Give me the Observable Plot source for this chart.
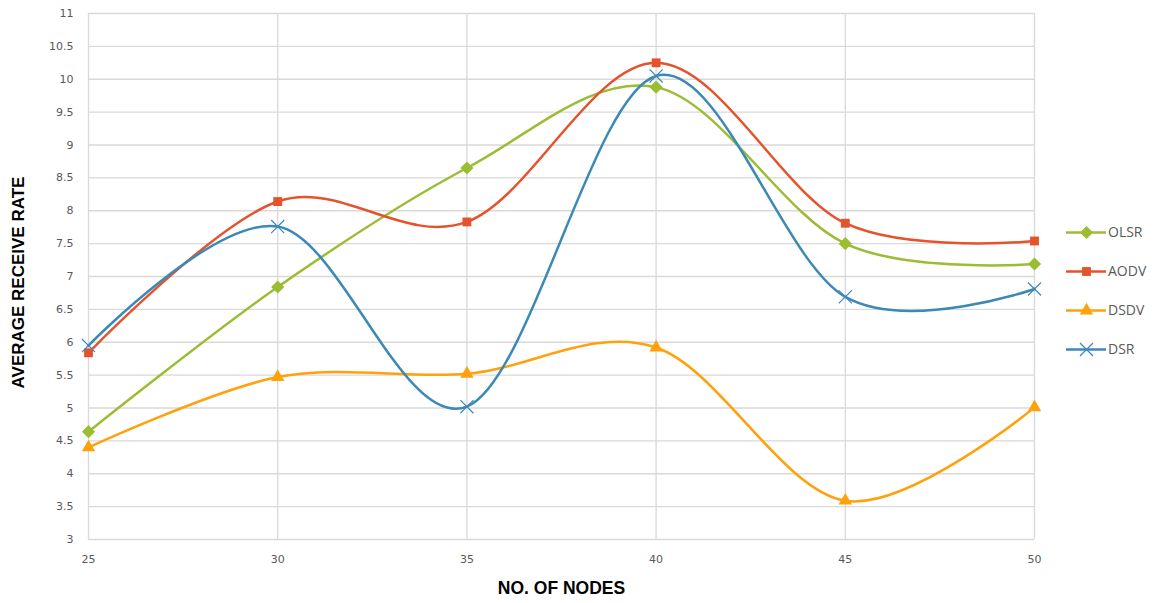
<!DOCTYPE html>
<html>
<head>
<meta charset="utf-8">
<script src="https://cdn.jsdelivr.net/npm/d3@7"></script>
<script src="https://cdn.jsdelivr.net/npm/@observablehq/plot@0.6"></script>
<style>
  body { margin: 0; background: #fff; }
  #wrap { position: relative; width: 1156px; height: 603px; }
  #legend { position: absolute; left: 1066px; top: 222px; font-family: "Open Sans", "DejaVu Sans", sans-serif; font-size: 14px; color: #595959; }
  .item { height: 39px; display: flex; align-items: flex-start; }
  .item svg { display: block; }
  .item span { margin-left: 2px; line-height: 20px; }
</style>
</head>
<body>
<div id="wrap"></div>
<script>
const nodes = [25, 30, 35, 40, 45, 50];
const olsr = [4.64, 6.84, 8.65, 9.88, 7.50, 7.19];
const aodv = [5.84, 8.14, 7.83, 10.25, 7.81, 7.54];
const dsdv = [4.40, 5.47, 5.52, 5.92, 3.59, 5.01];
const dsr  = [5.95, 7.76, 5.02, 10.05, 6.69, 6.81];
const yTicks = [3, 3.5, 4, 4.5, 5, 5.5, 6, 6.5, 7, 7.5, 8, 8.5, 9, 9.5, 10, 10.5, 11];
const xTicks = [25, 30, 35, 40, 45, 50];

// rotated-square diamond (Excel style)
const squareDiamond = {
  draw(context, size) {
    const h = Math.sqrt(size) / Math.SQRT2 * 1.05;
    context.moveTo(0, -h);
    context.lineTo(h, 0);
    context.lineTo(0, h);
    context.lineTo(-h, 0);
    context.closePath();
  }
};

const series = [
  {name: "OLSR", values: olsr, color: "#9BBD33", symbol: squareDiamond, r: 5, fill: true},
  {name: "AODV", values: aodv, color: "#E4532B", symbol: "square", r: 5, fill: true},
  {name: "DSDV", values: dsdv, color: "#FFA10A", symbol: "triangle", r: 5, fill: true},
  {name: "DSR",  values: dsr,  color: "#3C89B6", symbol: "times", r: 6, fill: false}
];

const marks = [
  Plot.gridY(yTicks, {stroke: "#d9d9d9", strokeOpacity: 1, strokeWidth: 1.3}),
  Plot.gridX(xTicks, {stroke: "#d9d9d9", strokeOpacity: 1, strokeWidth: 1.3}),
  Plot.axisY(yTicks, {tickSize: 0, tickPadding: 15, tickFormat: d => String(d), label: null, fontSize: 11, fill: "#595959", fontFamily: "DejaVu Sans, sans-serif"}),
  Plot.axisX(xTicks, {tickSize: 0, tickPadding: 16, tickFormat: d => String(d), label: null, fontSize: 11, fill: "#595959", fontFamily: "DejaVu Sans, sans-serif"}),
  Plot.text(["NO. OF NODES"], {frameAnchor: "bottom", textAnchor: "middle", lineAnchor: "middle", dy: 49, fontSize: 17.5, fontWeight: "bold", fill: "#000", fontFamily: "Liberation Sans, Arial, sans-serif"}),
  Plot.text(["AVERAGE RECEIVE RATE"], {frameAnchor: "left", textAnchor: "middle", lineAnchor: "middle", rotate: -90, dx: -70, dy: 6, fontSize: 17, fontWeight: "bold", fill: "#000", fontFamily: "Liberation Sans, Arial, sans-serif"})
];

for (const s of series) {
  const data = nodes.map((n, i) => ({x: n, y: s.values[i]}));
  marks.push(Plot.line(data, {x: "x", y: "y", stroke: s.color, strokeWidth: 2.5, curve: "cardinal"}));
}
for (const s of series) {
  const data = nodes.map((n, i) => ({x: n, y: s.values[i]}));
  marks.push(Plot.dot(data, s.fill
    ? {x: "x", y: "y", symbol: s.symbol, r: s.r, fill: s.color, stroke: "none"}
    : {x: "x", y: "y", symbol: s.symbol, r: s.r, stroke: s.color, strokeWidth: 1.2, fill: "none"}));
}

const chart = Plot.plot({
  width: 1156,
  height: 603,
  marginLeft: 88,
  marginRight: 122,
  marginTop: 13,
  marginBottom: 64,
  x: {domain: [25, 50], label: null},
  y: {domain: [3, 11], label: null},
  style: {background: "#fff"},
  marks
});

const wrap = document.getElementById("wrap");
wrap.appendChild(chart);

const legend = document.createElement("div");
legend.id = "legend";
for (const s of series) {
  const item = document.createElement("div");
  item.className = "item";
  const sym = Plot.plot({
    width: 40, height: 20, margin: 0,
    x: {domain: [0, 1], axis: null}, y: {domain: [0, 1], axis: null},
    marks: [
      Plot.ruleY([0.5], {x1: 0, x2: 1, stroke: s.color, strokeWidth: 2.5}),
      Plot.dot([{x: 0.5, y: 0.5}], s.fill
        ? {x: "x", y: "y", symbol: s.symbol, r: s.r, fill: s.color, stroke: "none"}
        : {x: "x", y: "y", symbol: s.symbol, r: s.r, stroke: s.color, strokeWidth: 1.2, fill: "none"})
    ]
  });
  item.appendChild(sym);
  const label = document.createElement("span");
  label.textContent = s.name;
  item.appendChild(label);
  legend.appendChild(item);
}
wrap.appendChild(legend);
</script>
</body>
</html>
